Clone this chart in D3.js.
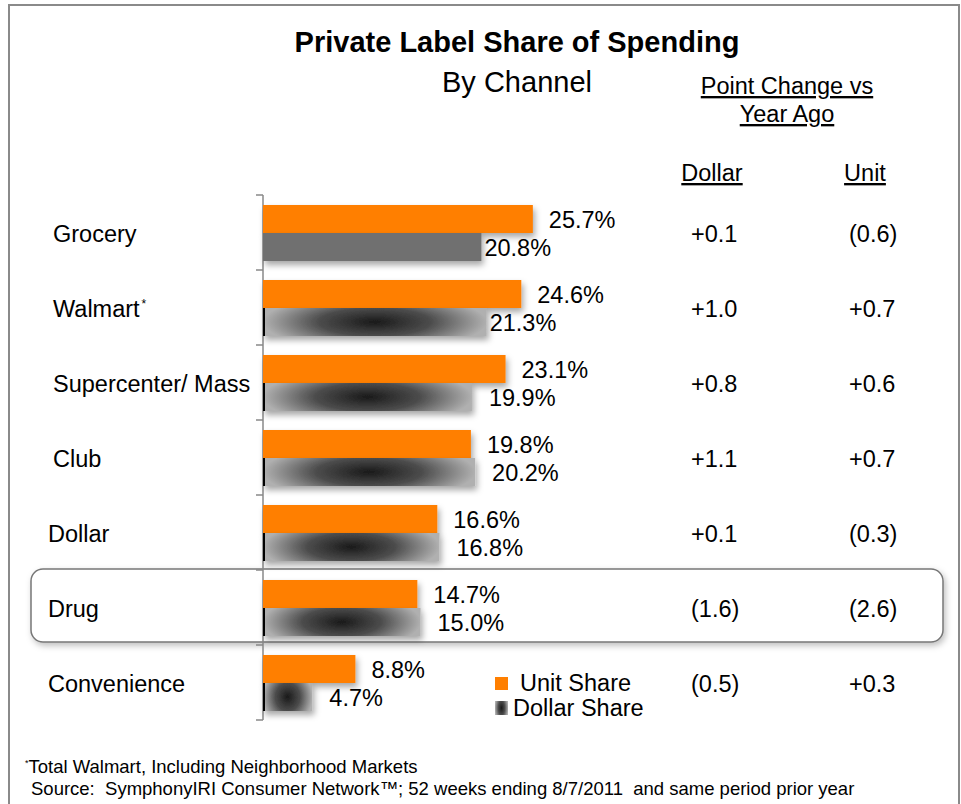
<!DOCTYPE html>
<html>
<head>
<meta charset="utf-8">
<script src="https://cdn.jsdelivr.net/npm/d3@7"></script>
<style>
  body { margin: 0; background: #fff; }
  svg { display: block; font-family: "Liberation Sans", Arial, sans-serif; }
</style>
</head>
<body>
<svg id="chart" width="961" height="804"></svg>
<script>
// chart data
const channels = ["Grocery", "Walmart", "Supercenter/ Mass", "Club", "Dollar", "Drug", "Convenience"];
const unitShare = [25.7, 24.6, 23.1, 19.8, 16.6, 14.7, 8.8];
const dollarShare = [20.8, 21.3, 19.9, 20.2, 16.8, 15.0, 4.7];
const dollarChange = ["+0.1", "+1.0", "+0.8", "+1.1", "+0.1", "(1.6)", "(0.5)"];
const unitChange = ["(0.6)", "+0.7", "+0.6", "+0.7", "(0.3)", "(2.6)", "+0.3"];
const highlighted = "Drug";
const starred = "Walmart";

const svg = d3.select("#chart");
const FS = 23.5; // body text size

const defs = svg.append("defs");

// dollar share bars: dark centre fading to light grey at the ends
const grad = defs.append("radialGradient")
  .attr("id", "dollarGrad")
  .attr("cx", 0.5).attr("cy", 0.5).attr("r", 0.5)
  .attr("gradientTransform", "translate(0.5,0.5) scale(1,2) translate(-0.5,-0.5)");
grad.append("stop").attr("offset", "0%").attr("stop-color", "#1a1a1a");
grad.append("stop").attr("offset", "50%").attr("stop-color", "#4c4c4c");
grad.append("stop").attr("offset", "100%").attr("stop-color", "#b0b0b0");

const shadow = defs.append("filter").attr("id", "barShadow")
  .attr("x", "-10%").attr("y", "-20%").attr("width", "130%").attr("height", "160%");
shadow.append("feDropShadow")
  .attr("dx", 2).attr("dy", 4).attr("stdDeviation", 3)
  .attr("flood-color", "#000").attr("flood-opacity", 0.35);

const boxShadow = defs.append("filter").attr("id", "boxShadow")
  .attr("x", "-5%").attr("y", "-20%").attr("width", "110%").attr("height", "150%");
boxShadow.append("feDropShadow")
  .attr("dx", 2).attr("dy", 3).attr("stdDeviation", 3)
  .attr("flood-color", "#000").attr("flood-opacity", 0.25);

// outer frame
svg.append("rect")
  .attr("x", 9).attr("y", 5)
  .attr("width", 950).attr("height", 830)
  .attr("fill", "none")
  .attr("stroke", "#8a8a8a")
  .attr("stroke-width", 2);

// titles
svg.append("text")
  .attr("x", 517).attr("y", 52)
  .attr("text-anchor", "middle")
  .attr("font-size", 29).attr("font-weight", "bold")
  .text("Private Label Share of Spending");

svg.append("text")
  .attr("x", 517).attr("y", 92)
  .attr("text-anchor", "middle")
  .attr("font-size", 29)
  .text("By Channel");

// column headers (underlined)
const header = (x, y, label) => svg.append("text")
  .attr("x", x).attr("y", y)
  .attr("text-anchor", "middle")
  .attr("font-size", FS)
  .attr("text-decoration", "underline")
  .text(label);
header(787, 94, "Point Change vs");
header(787, 122, "Year Ago");
header(712, 181, "Dollar");
header(865, 181, "Unit");

// scales
const x = d3.scaleLinear().domain([0, 30]).range([263, 578]);
const y = d3.scaleBand().domain(channels).range([195, 720]);
const sub = d3.scaleBand().domain(["unit", "dollar"]).range([10, 66]);
const mid = y.bandwidth() / 2 + 1;

// highlight box behind the highlighted row
svg.append("rect")
  .attr("x", 31).attr("y", y(highlighted) - 1)
  .attr("width", 912).attr("height", y.bandwidth() - 2)
  .attr("rx", 12).attr("ry", 12)
  .attr("fill", "#fff")
  .attr("stroke", "#777")
  .attr("stroke-width", 1.5)
  .attr("filter", "url(#boxShadow)");

// axis line with ticks at the band edges
svg.append("line")
  .attr("x1", x(0)).attr("x2", x(0))
  .attr("y1", y.range()[0]).attr("y2", y.range()[1])
  .attr("stroke", "#888").attr("stroke-width", 1.5);
const edges = channels.map(c => y(c)).concat([y.range()[1]]);
svg.selectAll(".tick").data(edges).enter().append("line")
  .attr("x1", x(0) - 7).attr("x2", x(0))
  .attr("y1", d => d).attr("y2", d => d)
  .attr("stroke", "#888").attr("stroke-width", 1.5);

const rows = channels.map((c, i) => ({
  c, i, unit: unitShare[i], dollar: dollarShare[i],
  dc: dollarChange[i], uc: unitChange[i]
}));

const g = svg.selectAll(".row").data(rows).enter().append("g")
  .attr("class", "row")
  .attr("transform", d => `translate(0,${y(d.c)})`);

// unit share bars
g.append("rect")
  .attr("x", x(0)).attr("y", sub("unit"))
  .attr("width", d => x(d.unit) - x(0))
  .attr("height", sub.bandwidth())
  .attr("fill", "#ff7f00")
  .attr("filter", "url(#barShadow)");

// dollar share bars
g.append("rect")
  .attr("x", x(0)).attr("y", sub("dollar"))
  .attr("width", d => x(d.dollar) - x(0))
  .attr("height", sub.bandwidth())
  .attr("fill", d => d.i === 0 ? "#6f6f6f" : "url(#dollarGrad)")
  .attr("filter", "url(#barShadow)");
g.filter(d => d.i !== 0).append("rect")
  .attr("x", x(0)).attr("y", sub("dollar"))
  .attr("width", 2).attr("height", sub.bandwidth())
  .attr("fill", "#000");

// value labels
g.append("text")
  .attr("x", d => x(d.unit) + 16)
  .attr("y", sub("unit") + sub.bandwidth() / 2 + 1)
  .attr("dy", "0.35em")
  .attr("font-size", FS)
  .text(d => d.unit.toFixed(1) + "%");
g.append("text")
  .attr("x", d => x(d.dollar) + (d.i < 2 ? 3 : 17))
  .attr("y", sub("dollar") + sub.bandwidth() / 2 + 1)
  .attr("dy", "0.35em")
  .attr("font-size", FS)
  .text(d => d.dollar.toFixed(1) + "%");

// category labels
const lab = g.append("text")
  .attr("x", d => d.i >= 4 ? 48 : 53)
  .attr("y", mid)
  .attr("dy", "0.35em")
  .attr("font-size", FS)
  .text(d => d.c);
lab.filter(d => d.c === starred).append("tspan")
  .attr("dx", 2).attr("dy", -9)
  .attr("font-size", 12)
  .text("*");

// point change columns
g.append("text")
  .attr("x", 691).attr("y", mid)
  .attr("dy", "0.35em")
  .attr("font-size", FS)
  .text(d => d.dc);
g.append("text")
  .attr("x", 849).attr("y", mid)
  .attr("dy", "0.35em")
  .attr("font-size", FS)
  .text(d => d.uc);

// legend
const legend = svg.append("g").attr("transform", "translate(495,677)");
legend.append("rect").attr("x", 0).attr("y", 0).attr("width", 13).attr("height", 13).attr("fill", "#ff7f00");
legend.append("text").attr("x", 25).attr("y", 6).attr("dy", "0.35em").attr("font-size", FS).text("Unit Share");
legend.append("rect").attr("x", 0).attr("y", 24).attr("width", 13).attr("height", 14).attr("fill", "url(#dollarGrad)");
legend.append("text").attr("x", 18).attr("y", 31).attr("dy", "0.35em").attr("font-size", FS).text("Dollar Share");

// footnotes
const foot = svg.append("text")
  .attr("x", 25).attr("y", 773)
  .attr("font-family", "'Liberation Sans Narrow', 'Arial Narrow', sans-serif")
  .attr("font-size", 18.5);
foot.append("tspan").attr("font-size", 9).attr("dy", -7).text("*");
foot.append("tspan").attr("dy", 7).text("Total Walmart, Including Neighborhood Markets");
svg.append("text")
  .attr("x", 31).attr("y", 795)
  .attr("font-family", "'Liberation Sans Narrow', 'Arial Narrow', sans-serif")
  .attr("font-size", 18.5)
  .attr("xml:space", "preserve")
  .text("Source:  SymphonyIRI Consumer Network\u2122; 52 weeks ending 8/7/2011  and same period prior year");
</script>
</body>
</html>
